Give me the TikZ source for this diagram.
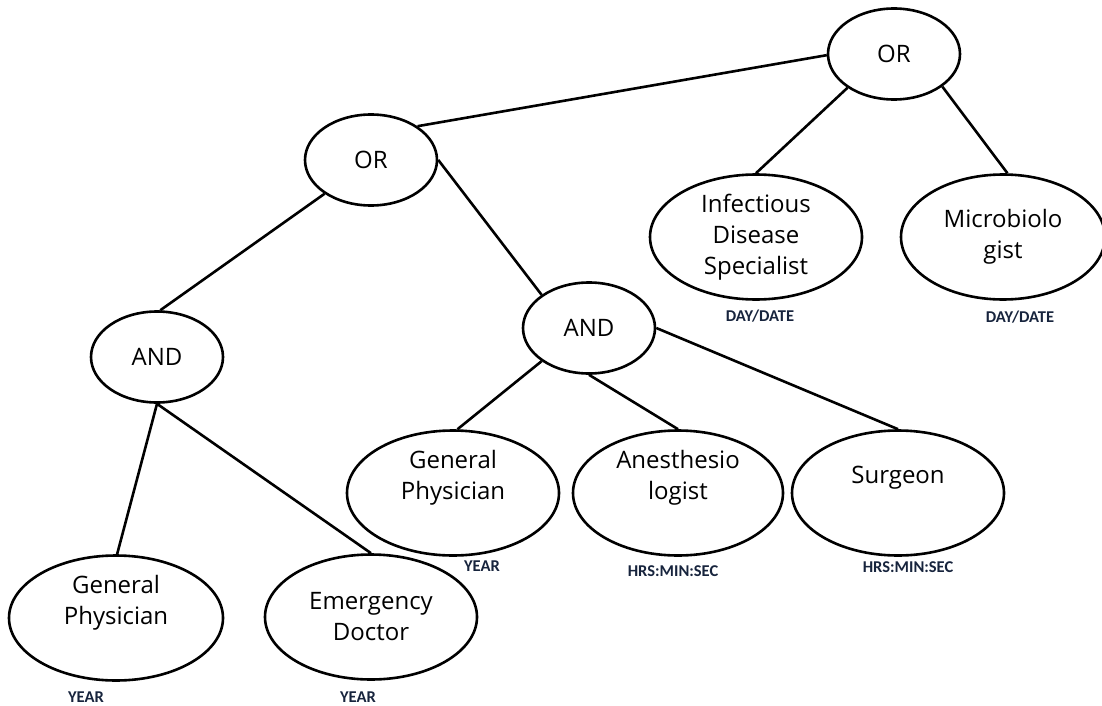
\documentclass[tikz,border=0pt]{standalone}
\usepackage{fontspec}
\setmainfont{Open Sans}
\newfontfamily\tagfont{Carlito}
\usetikzlibrary{shapes.geometric}
\definecolor{tagblue}{HTML}{17243D}
\tikzset{
  oval/.style={ellipse, draw=black, line width=2.6pt, fill=white, inner sep=0pt},
  gate/.style={oval, minimum width=132pt, minimum height=91pt},
  role/.style={oval, minimum width=212pt, minimum height=125pt},
  txt/.style={align=center, inner sep=0pt, font=\fontsize{24}{31}\selectfont},
  tag/.style={inner sep=0pt, text=tagblue, font=\tagfont\bfseries\fontsize{16.5}{18}\selectfont},
  link/.style={draw=black, line width=2.6pt}
}
\begin{document}
\begin{tikzpicture}[x=1pt, y=-1pt]
\useasboundingbox (0,0) rectangle (1102,706);

% gates
\node[gate] (or1) at (894,54) {};
\node[txt] (or1t) at (or1.center) {OR};
\node[gate] (or2) at (371,160) {};
\node[txt] (or2t) at (or2.center) {OR};
\node[gate] (and1) at (157,357) {};
\node[txt] (and1t) at (and1.center) {AND};
\node[gate] (and2) at (589,328) {};
\node[txt] (and2t) at (and2.center) {AND};

% roles
\node[role] (ids) at (756,237) {};
\node[txt] (idst) at (ids.center) {Infectious\\Disease\\Specialist};
\node[role, minimum width=204pt] (mic) at (1003,237) {};
\node[txt] (mict) at (mic.center) {Microbiolo\\gist};
\node[role] (gp2) at (453,493) {};
\node[txt] (gp2t) at ([yshift=15pt]gp2.center) {General\\Physician};
\node[role, minimum width=210pt] (ane) at (678,493) {};
\node[txt] (anet) at ([yshift=15pt]ane.center) {Anesthesio\\logist};
\node[role] (sur) at (898,493) {};
\node[txt] (surt) at ([yshift=15pt]sur.center) {Surgeon};
\node[role, minimum width=214pt] (gp1) at (116,618) {};
\node[txt] (gp1t) at ([yshift=15pt]gp1.center) {General\\Physician};
\node[role] (emd) at (371,617) {};
\node[txt] (emdt) at (emd.center) {Emergency\\Doctor};

% time-unit tags
\node[tag] (t1) at (760,316) {DAY/DATE};
\node[tag] (t2) at (1020,317) {DAY/DATE};
\node[tag] (t3) at (482,566) {YEAR};
\node[tag] (t4) at (673,571) {HRS:MIN:SEC};
\node[tag] (t5) at (908,567) {HRS:MIN:SEC};
\node[tag] (t6) at (86,697) {YEAR};
\node[tag] (t7) at (358,697) {YEAR};

% connectors
\draw[link] (or1.181) -- (or2.36);
\draw[link] (or1.216) -- (ids.90);
\draw[link] (or1.326) -- (mic.86);
\draw[link] (or2.216) -- (and1.86);
\draw[link] (or2.0) -- (and2.145);
\draw[link] (and1.270) -- (gp1.89);
\draw[link] (and1.270) -- (emd.90);
\draw[link] (and2.215) -- (gp2.86);
\draw[link] (and2.270) -- (ane.90);
\draw[link] (and2.0) -- (sur.90);
\end{tikzpicture}
\end{document}
